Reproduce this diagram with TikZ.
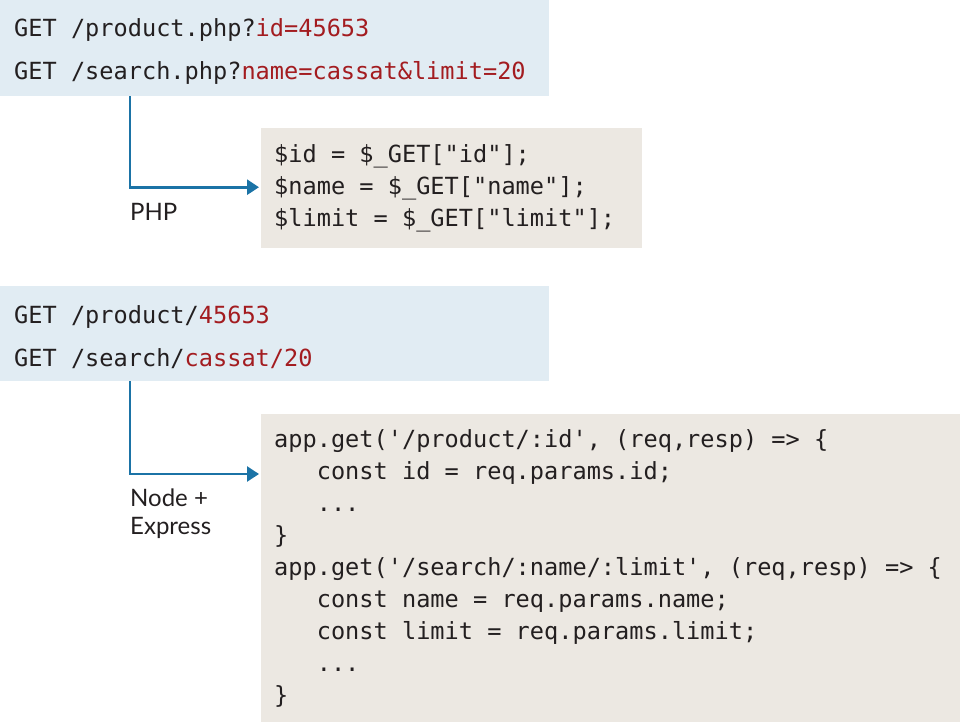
\documentclass[tikz,border=0pt]{standalone}
\usepackage{fontspec}
\setmonofont{DejaVu Sans Mono}
\setsansfont{Lato}
\usetikzlibrary{arrows.meta}
\definecolor{boxblue}{HTML}{E1ECF3}
\definecolor{boxgray}{HTML}{ECE8E2}
\definecolor{codered}{HTML}{A31C20}
\definecolor{arrowblue}{HTML}{1B73A6}
\definecolor{ink}{HTML}{231F20}
\newcommand{\rd}[1]{\textcolor{codered}{#1}}
\begin{document}
\begin{tikzpicture}[x=1pt,y=-1pt,
  bluebox/.style={fill=boxblue,draw=none,anchor=north west,inner sep=0pt},
  graybox/.style={fill=boxgray,draw=none,anchor=north west,inner sep=0pt},
  code/.style={anchor=base west,inner sep=0pt,text=ink,font=\ttfamily\fontsize{23.6}{31.6}\selectfont},
  lbl/.style={anchor=base west,inner sep=0pt,text=ink,font=\sffamily\fontsize{24}{28}\selectfont},
  arr/.style={draw=arrowblue,line width=2.6pt,-{Triangle[length=12pt,width=15pt]}}]
\useasboundingbox (0,0) rectangle (960,722);
% boxes
\node[bluebox,minimum width=549pt,minimum height=96pt] (q1) at (0,0) {};
\node[graybox,minimum width=381pt,minimum height=120pt] (c1) at (261,128) {};
\node[bluebox,minimum width=549pt,minimum height=95pt] (q2) at (0,286) {};
\node[graybox,minimum width=699pt,minimum height=308pt] (c2) at (261,414) {};
% box 1 text
\node[code] (q1a) at (14,37) {GET /product.php?\rd{id=45653}};
\node[code] (q1b) at (14,80) {GET /search.php?\rd{name=cassat\&limit=20}};
% box 2 text
\node[code] (c1a) at (274,163) {\$id = \$\_GET["id"];};
\node[code] (c1b) at (274,194.5) {\$name = \$\_GET["name"];};
\node[code] (c1c) at (274,226) {\$limit = \$\_GET["limit"];};
% box 3 text
\node[code] (q2a) at (14,323) {GET /product/\rd{45653}};
\node[code] (q2b) at (14,366) {GET /search/\rd{cassat/20}};
% box 4 text
\node[code] (c2a) at (274,447) {app.get('/product/:id', (req,resp) => \{};
\node[code] (c2b) at (274,479) {\ \ \ const id = req.params.id;};
\node[code] (c2c) at (274,511) {\ \ \ ...};
\node[code] (c2d) at (274,543) {\}};
\node[code] (c2e) at (274,575) {app.get('/search/:name/:limit', (req,resp) => \{};
\node[code] (c2f) at (274,607) {\ \ \ const name = req.params.name;};
\node[code] (c2g) at (274,639) {\ \ \ const limit = req.params.limit;};
\node[code] (c2h) at (274,671) {\ \ \ ...};
\node[code] (c2i) at (274,703) {\}};
% labels
\node[lbl] (l1) at (130,220) {PHP};
\node[lbl] (l2a) at (130,506) {Node +};
\node[lbl] (l2b) at (130,534) {Express};
% arrows
\draw[arr] ([xshift=130pt]q1.south west) |- ([xshift=-2pt,yshift=1pt]c1.west);
\draw[arr] ([xshift=130pt]q2.south west) |- ([xshift=-2pt,yshift=-60pt]c2.north west);
\end{tikzpicture}
\end{document}
